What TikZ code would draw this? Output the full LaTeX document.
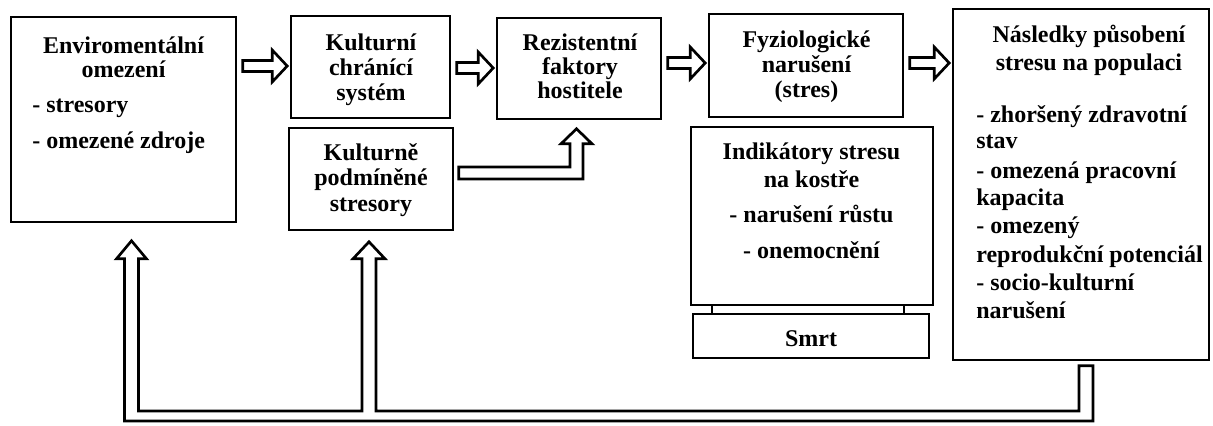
\documentclass[tikz,border=0pt]{standalone}
\usepackage{fontspec}
\setmainfont{Liberation Serif}
\usetikzlibrary{calc}
\tikzset{
  box/.style={draw, line width=1.2pt, inner sep=0pt, fill=white},
  blk/.style={draw, line width=2pt, fill=white, line join=miter},
  txt/.style={font=\fontsize{18}{21}\selectfont\bfseries, inner sep=0pt, anchor=base},
  txl/.style={txt, anchor=base west},
  leg/.style={draw, line width=1.4pt},
}
% horizontal block arrow from node #1 to node #2 at height #3 (px)
\newcommand\blkR[3]{%
  \draw[blk] let \p1=($(#1.east)+(6,0)$), \p2=($(#2.west)+(-3,0)$), \p3=(0,#3) in
    ($(\x1,\y3)+(0,-5.5)$) -- ($(\x2,\y3)+(-15,-5.5)$) -- ($(\x2,\y3)+(-15,-16)$) --
    (\x2,\y3) -- ($(\x2,\y3)+(-15,16)$) -- ($(\x2,\y3)+(-15,5.5)$) --
    ($(\x1,\y3)+(0,5.5)$) -- cycle;}
\begin{document}
\begin{tikzpicture}[x=0.75pt,y=-0.75pt]
\useasboundingbox (0,0) rectangle (1213,425);

% boxes
\node[box, minimum width=168.75pt, minimum height=153.75pt] (b1) at (123.5,119.5) {};
\node[box, minimum width=119.25pt, minimum height=76.5pt] (b2) at (370.5,67) {};
\node[box, minimum width=123pt, minimum height=76.5pt] (b3) at (371,179) {};
\node[box, minimum width=123pt, minimum height=75.75pt] (b4) at (579,68.5) {};
\node[box, minimum width=145.5pt, minimum height=77.25pt] (b5) at (806,65.5) {};
\node[box, minimum width=181.5pt, minimum height=133.5pt] (b6) at (812,216) {};
\node[box, minimum width=177pt, minimum height=33pt] (smrt) at (811,336) {};
\node[box, minimum width=192pt, minimum height=263.25pt] (b8) at (1081,184.5) {};

% legs between indicator box and Smrt
\draw[leg] ($(b6.south west)+(22,0)$) -- ($(smrt.north west)+(20,0)$);
\draw[leg] ($(b6.south east)+(-30,0)$) -- ($(smrt.north east)+(-26,0)$);

% texts
\node[txt] (t1a) at (123.5,53) {Enviromentální};
\node[txt] (t1b) at (123.5,77) {omezení};
\node[txl] (t1c) at (32,112) {- stresory};
\node[txl] (t1d) at (32,148) {- omezené zdroje};

\node[txt] (t2a) at (371,50) {Kulturní};
\node[txt] (t2b) at (371,75) {chránící};
\node[txt] (t2c) at (371,100) {systém};

\node[txt] (t3a) at (371,160) {Kulturně};
\node[txt] (t3b) at (371,185) {podmíněné};
\node[txt] (t3c) at (371,211) {stresory};

\node[txt] (t4a) at (580,50) {Rezistentní};
\node[txt] (t4b) at (580,74) {faktory};
\node[txt] (t4c) at (580,98) {hostitele};

\node[txt] (t5a) at (806.5,47) {Fyziologické};
\node[txt] (t5b) at (806.5,72) {narušení};
\node[txt] (t5c) at (806.5,97) {(stres)};

\node[txt] (t6a) at (811.5,159) {Indikátory stresu};
\node[txt] (t6b) at (811.5,187) {na kostře};
\node[txt] (t6c) at (811.5,222) {- narušení růstu};
\node[txt] (t6d) at (811.5,258) {- onemocnění};

\node[txt] (t7) at (811,346) {Smrt};

\node[txt] (t8a) at (1089,42) {Následky působení};
\node[txt] (t8b) at (1089,70) {stresu na populaci};
\node[txl] (t8c) at (976,122) {- zhoršený zdravotní};
\node[txl] (t8d) at (976,148) {stav};
\node[txl] (t8e) at (976,178) {- omezená pracovní};
\node[txl] (t8f) at (976,205) {kapacita};
\node[txl] (t8g) at (976,233) {- omezený};
\node[txl] (t8h) at (976,262) {reprodukční potenciál};
\node[txl] (t8i) at (976,290) {- socio-kulturní};
\node[txl] (t8j) at (976,318) {narušení};

% horizontal block arrows
\blkR{b1}{b2}{66}
\blkR{b2}{b4}{68}
\blkR{b4}{b5}{63}
\blkR{b5}{b8}{63}

% L-shaped arrow from b3 to b4
\draw[blk] let \p1=($(b3.east)+(5,-6)$), \p2=($(b4.south)+(-2.5,9)$) in
  ($(\x1,\y1)+(0,-6)$) -- ($(\x2,\y1)+(-6.5,-6)$) -- ($(\x2,\y2)+(-6.5,15)$) --
  ($(\x2,\y2)+(-15.5,15)$) -- (\x2,\y2) -- ($(\x2,\y2)+(15.5,15)$) --
  ($(\x2,\y2)+(6.5,15)$) -- ($(\x2,\y1)+(6.5,6)$) -- ($(\x1,\y1)+(0,6)$) -- cycle;

% feedback pipe from b8 back to b1 and b3
\draw[blk] let \p1=($(b1.south)+(8,18)$), \p2=($(b3.south)+(-2,11)$),
               \p3=($(b8.south)+(5,5)$), \p4=(0,416) in
  (\x1,\y1) -- ($(\x1,\y1)+(15,18)$) -- ($(\x1,\y1)+(7,18)$) --
  ($(\x1,\y4)+(7,-5)$) -- ($(\x2,\y4)+(-7,-5)$) -- ($(\x2,\y2)+(-7,17)$) --
  ($(\x2,\y2)+(-16,17)$) -- (\x2,\y2) -- ($(\x2,\y2)+(16,17)$) --
  ($(\x2,\y2)+(7,17)$) -- ($(\x2,\y4)+(7,-5)$) -- ($(\x3,\y4)+(-7,-5)$) --
  ($(\x3,\y3)+(-7,0)$) -- ($(\x3,\y3)+(7,0)$) -- ($(\x3,\y4)+(7,5)$) --
  ($(\x1,\y4)+(-7,5)$) -- ($(\x1,\y1)+(-7,18)$) -- ($(\x1,\y1)+(-15,18)$) -- cycle;
\end{tikzpicture}
\end{document}
